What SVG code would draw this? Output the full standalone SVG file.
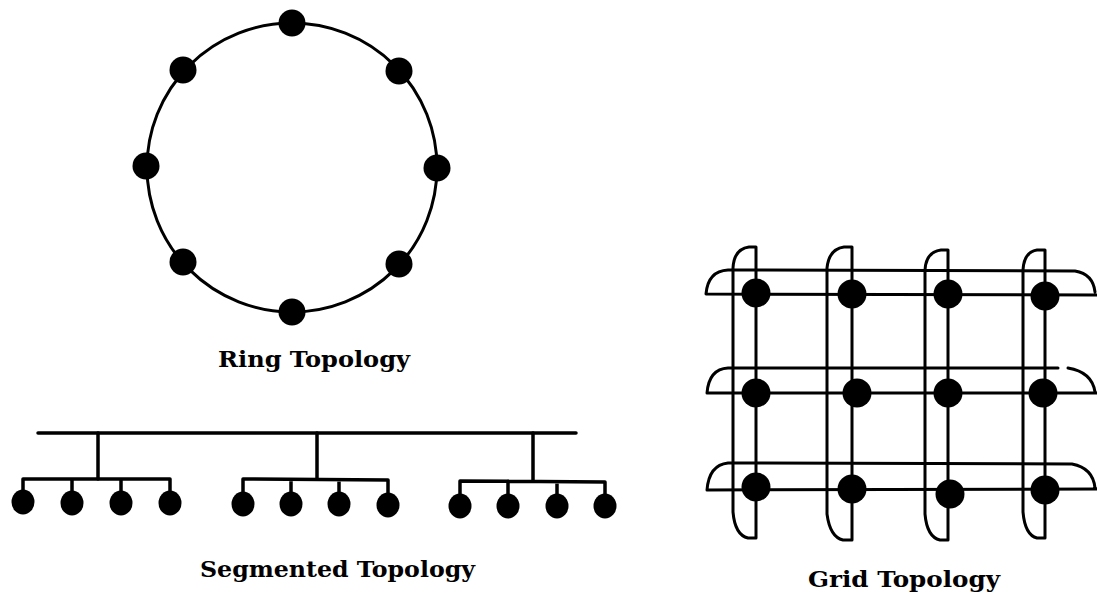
<svg xmlns="http://www.w3.org/2000/svg" width="1097" height="599" viewBox="0 0 1097 599">
<style>
.ln{fill:none;stroke:#000;stroke-width:3;stroke-linecap:round;stroke-linejoin:round}
.bus{fill:none;stroke:#000;stroke-width:3.5;stroke-linecap:round}
.nd{fill:#000}
.lbl{font-family:"DejaVu Serif","Liberation Serif",serif;font-weight:bold;font-size:23px;fill:#000}
</style>
<rect width="1097" height="599" fill="#fff"/>
<g id="connectors">
  <ellipse class="ln" cx="292" cy="167.5" rx="145" ry="144.5"/>
  <path class="bus" d="M38,433 L576,433"/>
  <path class="bus" d="M98,433 L98,479 M317,433 L317,479 M533,433 L533,481"/>
  <path class="bus" d="M23,479 L170,479 M23,479 L23,500 M72,479 L72,500 M121,479 L121,500 M170,479 L170,500"/>
  <path class="bus" d="M243,479 L388,480 M243,479 L243,500 M291,480 L291,500 M339,480 L339,500 M388,480 L388,500"/>
  <path class="bus" d="M460,481 L605,482 M460,481 L460,500 M508,481 L508,500 M557,482 L557,500 M605,482 L605,500"/>
  <path class="ln" d="M756,538 L756,247 L749,247 Q734,249 733,268 L733,512 Q735,535 748,538 Z"/>
  <path class="ln" d="M852,540 L852,247 L844,247 Q829,249 827,268 L827,514 Q830,537 843,540 Z"/>
  <path class="ln" d="M948,540 L948,250 L941,250 Q926,252 925,270 L925,514 Q927,537 940,540 Z"/>
  <path class="ln" d="M1045,538 L1045,250 L1037,250 Q1024,252 1023,270 L1023,512 Q1025,535 1037,538 Z"/>
  <path class="ln" d="M1097,295 L706,294 Q708,271 728,270 L1075,271 Q1093,274 1095,292"/>
  <path class="ln" d="M1097,393 L707,393 Q709,369 728,368 L1058,368"/>
  <path class="ln" d="M1068,368 Q1092,372 1095,392"/>
  <path class="ln" d="M1097,489 L707,490 Q709,465 728,463 L1072,464 Q1093,468 1095,488"/>
</g>
<g id="ring-nodes">
  <circle class="nd" cx="292" cy="23" r="13.5"/>
  <circle class="nd" cx="399" cy="71" r="13.5"/>
  <circle class="nd" cx="437" cy="168" r="13.5"/>
  <circle class="nd" cx="399" cy="264" r="13.5"/>
  <circle class="nd" cx="292" cy="312" r="13.5"/>
  <circle class="nd" cx="183" cy="262" r="13.5"/>
  <circle class="nd" cx="146" cy="166" r="13.5"/>
  <circle class="nd" cx="183" cy="70" r="13.5"/>
</g>
<g id="segmented-nodes">
  <ellipse class="nd" cx="23" cy="502" rx="11.5" ry="12.5"/>
  <ellipse class="nd" cx="72" cy="503" rx="11.5" ry="12.5"/>
  <ellipse class="nd" cx="121" cy="503" rx="11.5" ry="12.5"/>
  <ellipse class="nd" cx="170" cy="503" rx="11.5" ry="12.5"/>
  <ellipse class="nd" cx="243" cy="504" rx="11.5" ry="12.5"/>
  <ellipse class="nd" cx="291" cy="504" rx="11.5" ry="12.5"/>
  <ellipse class="nd" cx="339" cy="504" rx="11.5" ry="12.5"/>
  <ellipse class="nd" cx="388" cy="505" rx="11.5" ry="12.5"/>
  <ellipse class="nd" cx="460" cy="506" rx="11.5" ry="12.5"/>
  <ellipse class="nd" cx="508" cy="506" rx="11.5" ry="12.5"/>
  <ellipse class="nd" cx="557" cy="506" rx="11.5" ry="12.5"/>
  <ellipse class="nd" cx="605" cy="506" rx="11.5" ry="12.5"/>
</g>
<g id="grid-nodes">
  <circle class="nd" cx="756" cy="293" r="14.5"/>
  <circle class="nd" cx="852" cy="294" r="14.5"/>
  <circle class="nd" cx="948" cy="294" r="14.5"/>
  <circle class="nd" cx="1045" cy="296" r="14.5"/>
  <circle class="nd" cx="756" cy="393" r="14.5"/>
  <circle class="nd" cx="857" cy="393" r="14.5"/>
  <circle class="nd" cx="948" cy="393" r="14.5"/>
  <circle class="nd" cx="1043" cy="393" r="14.5"/>
  <circle class="nd" cx="756" cy="487" r="14.5"/>
  <circle class="nd" cx="852" cy="489" r="14.5"/>
  <circle class="nd" cx="950" cy="494" r="14.5"/>
  <circle class="nd" cx="1045" cy="490" r="14.5"/>
</g>
<g id="labels">
  <text class="lbl" x="218" y="367" textLength="192" lengthAdjust="spacingAndGlyphs">Ring Topology</text>
  <text class="lbl" x="200" y="577" textLength="275" lengthAdjust="spacingAndGlyphs">Segmented Topology</text>
  <text class="lbl" x="808" y="587" textLength="192" lengthAdjust="spacingAndGlyphs">Grid Topology</text>
</g>
</svg>
